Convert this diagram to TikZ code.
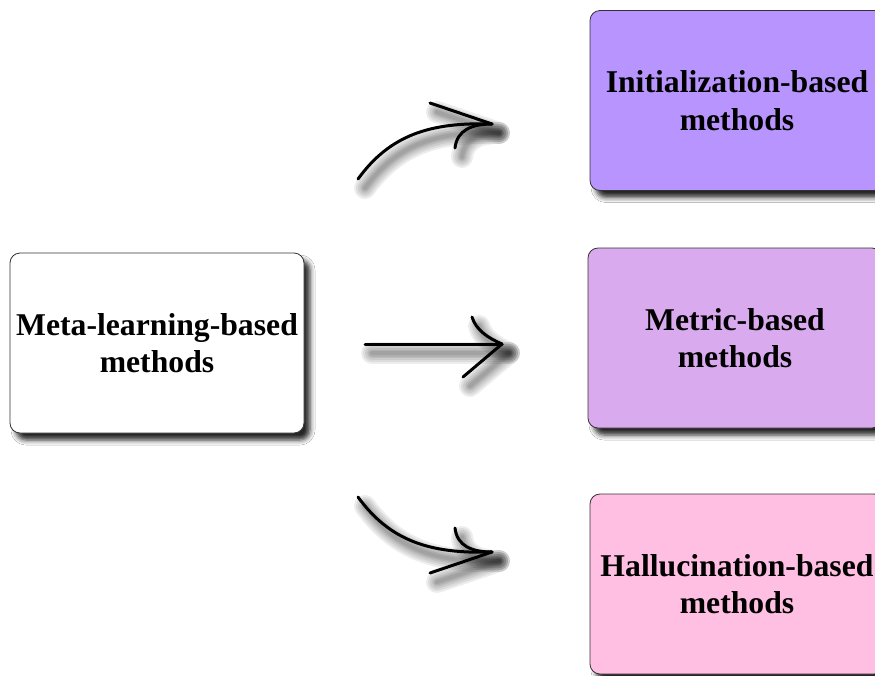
\documentclass[tikz,border=0pt]{standalone}
\usepackage{fontspec}
\setmainfont{Liberation Serif}
\usetikzlibrary{shadows.blur}

\definecolor{initcol}{HTML}{B894FE}
\definecolor{metriccol}{HTML}{DAAAEF}
\definecolor{hallucol}{HTML}{FEBFE2}

\tikzset{
  methodbox/.style={draw=black!80, line width=0.8pt, rounded corners=10pt,
    minimum width=294pt, minimum height=180pt, align=center, inner sep=2pt,
    font=\bfseries\fontsize{31.7}{37.5}\selectfont,
    blur shadow={shadow xshift=6pt, shadow yshift=-7pt,
      shadow blur radius=5pt, shadow opacity=85}},
  pen/.style={line width=3pt, line cap=round, black},
  penshade/.style={line cap=round, black, opacity=0.07},
}

% the three sketched arrows, drawn with the style given as argument
\newcommand\sketcharrows[1]{%
  \draw[#1] (s1) .. controls +(32,-44) and +(-62,-2) .. (t1);
  \draw[#1] (c1) .. controls +(2,-18) and +(-20,0) .. (t1);
  \draw[#1] (b1) -- (t1);
  \draw[#1] (s2) -- (t2);
  \draw[#1] (c2) .. controls +(4,13) and +(-14,-6) .. (t2);
  \draw[#1] (b2) -- (t2);
  \draw[#1] (s3) .. controls +(32,44) and +(-62,2) .. (t3);
  \draw[#1] (c3) .. controls +(2,18) and +(-20,0) .. (t3);
  \draw[#1] (b3) -- (t3);
}

\begin{document}
\begin{tikzpicture}[x=1pt, y=-1pt]
  \clip (0,0) rectangle (875,675);
  \fill[white] (0,0) rectangle (875,675);

  % boxes
  \node[methodbox, fill=white] (meta) at (157,343) {Meta-learning-based\\methods};
  \node[methodbox, fill=initcol] (init) at (737,100.5) {Initialization-based\\methods};
  \node[methodbox, fill=metriccol] (metric) at (735,338) {Metric-based\\methods};
  \node[methodbox, fill=hallucol] (hallu) at (737,584) {Hallucination-based\\methods};

  % arrow end points
  \coordinate (s1) at (358,179);
  \coordinate (t1) at (492,124);
  \coordinate (c1) at (455,148);
  \coordinate (b1) at (430,103);
  \coordinate (s2) at (365,344);
  \coordinate (t2) at (502,344);
  \coordinate (c2) at (472,317);
  \coordinate (b2) at (463,377);
  \coordinate (s3) at (358,497);
  \coordinate (t3) at (492,552);
  \coordinate (c3) at (455,528);
  \coordinate (b3) at (430,573);

  % soft shadow of the arrows
  \begin{scope}[transform canvas={shift={(7pt,-9pt)}}]
    \foreach \w in {22,18,14,10,7,4} {
      \sketcharrows{penshade, line width=\w pt}
    }
  \end{scope}

  % arrows
  \sketcharrows{pen}
\end{tikzpicture}
\end{document}
